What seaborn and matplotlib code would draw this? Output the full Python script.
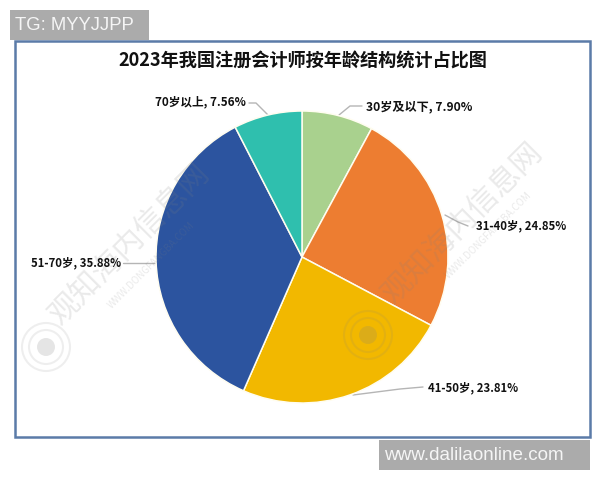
import matplotlib
matplotlib.use("Agg")
import matplotlib.pyplot as plt
from matplotlib.patches import Rectangle, Circle
import seaborn as sns

categories = ["30岁及以下", "31-40岁", "41-50岁", "51-70岁", "70岁以上"]
shares = [7.90, 24.85, 23.81, 35.88, 7.56]
hex_colors = ["#A9D18E", "#ED7D31", "#F2B800", "#2C549F", "#2FBFAE"]
title = "2023年我国注册会计师按年龄结构统计占比图"

sns.set_theme(style="white")
FONT = ["Noto Sans CJK SC", "DejaVu Sans"]
plt.rcParams["font.family"] = FONT
palette = sns.color_palette(hex_colors)

fig = plt.figure(figsize=(6, 4.8), dpi=100, facecolor="white")
ax = fig.add_axes([0, 0, 1, 1])

# chart frame
ax.add_patch(Rectangle((15, 43), 575, 396, fc="white", ec="#5B7BA8", lw=1.8, zorder=1))

ax.pie(shares, colors=palette, startangle=90, counterclock=False,
       center=(302, 223), radius=146, frame=False,
       wedgeprops=dict(edgecolor="#FFFDF0", linewidth=1.1, zorder=2))
ax.set_xlim(0, 600)
ax.set_ylim(0, 480)
ax.set_aspect("equal")
ax.axis("off")

# watermarks (laid over the chart, faint)
wm_kw = dict(color="#808080", alpha=0.17, rotation=45, ha="center", va="center", zorder=2.5)
for x, y in [(130, 236), (463, 257)]:
    ax.text(x, y, "观知海内信息网", fontsize=22, **wm_kw)
for x, y in [(151, 215), (488, 245)]:
    ax.text(x, y, "WWW.DONGFANGBA.COM", fontsize=7, **wm_kw)
for x, y in [(46, 133), (368, 145)]:
    ax.add_patch(Circle((x, y), 24, fc="none", ec="#808080", alpha=0.13, lw=1.5, zorder=2.5))
    ax.add_patch(Circle((x, y), 17, fc="none", ec="#808080", alpha=0.13, lw=1.5, zorder=2.5))
    ax.add_patch(Circle((x, y), 9, fc="#808080", ec="none", alpha=0.2, zorder=2.5))

ax.text(303, 419, title, fontsize=13.1, fontweight="bold", color="#111111",
        ha="center", va="center", zorder=3)

label_pos = [(419, 373), (521, 254), (473.5, 92), (76, 217), (200.5, 378)]
label_size = [8.7, 8.2, 8.2, 8.2, 8.4]
leaders = [
    [(362, 374), (350, 374), (339, 365)],
    [(468, 254), (458, 258), (445, 265)],
    [(423, 93), (400, 91), (353, 85)],
    [(123, 217), (156, 217)],
    [(249, 377), (256, 377), (268, 365)],
]
for cat, val, (tx, ty), fs, pts in zip(categories, shares, label_pos, label_size, leaders):
    ax.text(tx, ty, f"{cat}, {val:.2f}%", fontsize=fs, fontweight="bold",
            color="#111111", ha="center", va="center", zorder=3)
    ax.plot(*zip(*pts), color="#B5B5B5", lw=1, zorder=1.5)

# corner tags
ax.add_patch(Rectangle((10, 440), 139, 30, fc="#ABABAB", ec="none", zorder=4))
ax.text(15, 455, "TG: MYYJJPP", fontsize=13.3, color="#F5F5F5", family=["Liberation Sans"],
        ha="left", va="center", zorder=5)
ax.add_patch(Rectangle((379, 10), 211, 30, fc="#ABABAB", ec="none", zorder=4))
ax.text(384, 24.5, "www.dalilaonline.com", fontsize=13.6, color="#F5F5F5", family=["Liberation Sans"],
        ha="left", va="center", zorder=5)

fig.savefig("out.png", dpi=100)
